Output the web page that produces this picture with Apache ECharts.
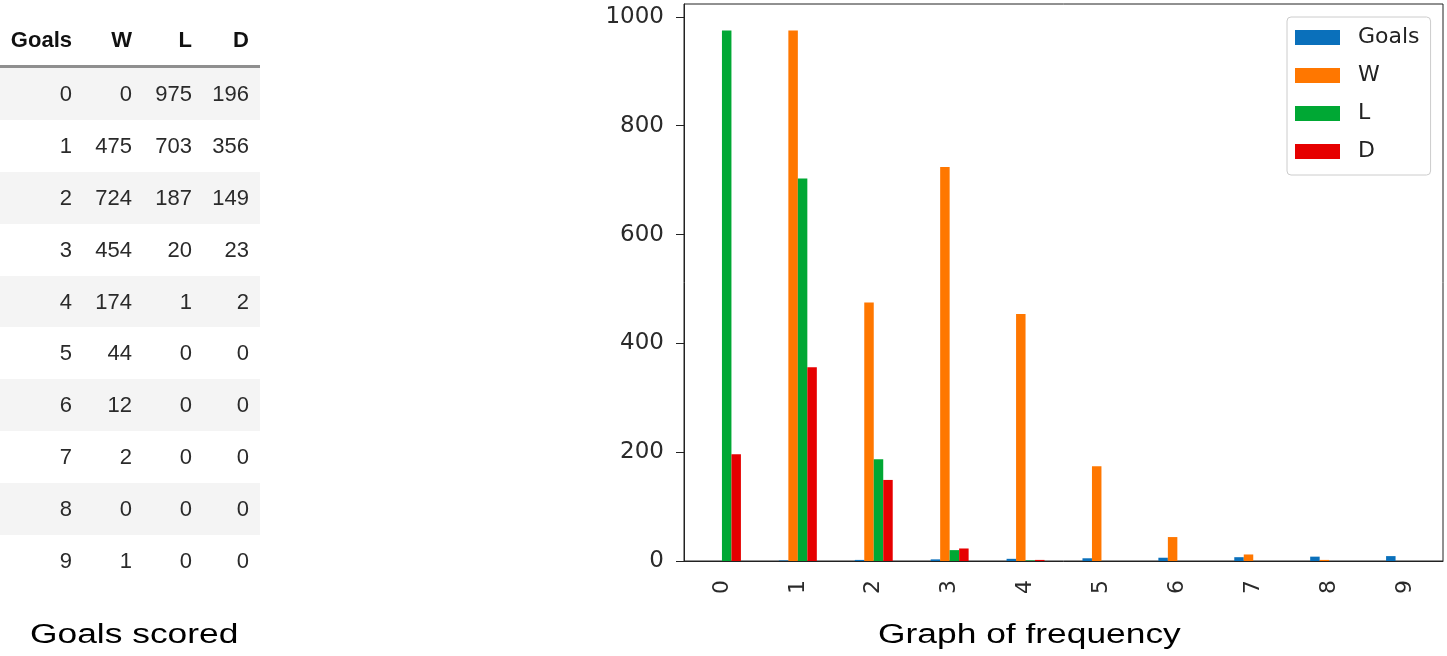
<!DOCTYPE html>
<html><head><meta charset="utf-8">
<script src="https://cdn.jsdelivr.net/npm/echarts@6/dist/echarts.min.js"></script>
<style>
html,body{margin:0;padding:0;background:#fff;width:1447px;height:656px;overflow:hidden;}
#chart{position:absolute;left:0;top:0;width:1447px;height:656px;}
#tbl{position:absolute;left:0;top:15px;border-collapse:collapse;font-family:"Liberation Sans",Arial,sans-serif;font-size:22px;color:#2a2a2a;table-layout:fixed;width:260px;z-index:2}
#tbl th{font-weight:bold;color:#111;height:50px;text-align:right;padding:0;border-bottom:3px solid #8f8f8f;}
#tbl td{height:51.9px;text-align:right;padding:0;}
#tbl tr.odd td{background:#f4f4f4}
.cap{position:absolute;font-family:"Liberation Sans",Arial,sans-serif;font-size:27px;line-height:27px;color:#000;transform-origin:left top;transform:scaleX(1.31);white-space:nowrap;z-index:2}
</style></head>
<body>
<div id="chart"></div>
<table id="tbl">
<colgroup><col style="width:72px"><col style="width:60px"><col style="width:60px"><col style="width:57px"><col style="width:11px"></colgroup>
<thead><tr id="hdr"></tr></thead>
<tbody id="tbody"></tbody>
</table>
<div class="cap" style="left:30px;top:621px;">Goals scored</div>
<div class="cap" style="left:878px;top:621px;">Graph of frequency</div>
<script>
// Table data (left panel)
const tableHeader = ['Goals', 'W', 'L', 'D'];
const tableGoals = [0, 1, 2, 3, 4, 5, 6, 7, 8, 9];
const tableW = [0, 475, 724, 454, 174, 44, 12, 2, 0, 1];
const tableL = [975, 703, 187, 20, 1, 0, 0, 0, 0, 0];
const tableD = [196, 356, 149, 23, 2, 0, 0, 0, 0, 0];

// Chart data (right panel)
const categories = ['0', '1', '2', '3', '4', '5', '6', '7', '8', '9'];
const goalsValues = [0, 1, 2, 3, 4, 5, 6, 7, 8, 9];
const wValues = [0, 975, 475, 724, 454, 174, 44, 12, 2, 0];
const lValues = [975, 703, 187, 20, 1, 0, 0, 0, 0, 0];
const dValues = [196, 356, 149, 23, 2, 0, 0, 0, 0, 0];
const seriesNames = ['Goals', 'W', 'L', 'D'];
const yTicks = [0, 200, 400, 600, 800, 1000];

// build table
const hdr = document.getElementById('hdr');
tableHeader.forEach(h => { const th = document.createElement('th'); th.textContent = h; hdr.appendChild(th); });
hdr.appendChild(document.createElement('th'));
const tb = document.getElementById('tbody');
tableGoals.forEach((g, i) => {
  const tr = document.createElement('tr');
  if (i % 2 === 0) tr.className = 'odd';
  [g, tableW[i], tableL[i], tableD[i], ''].forEach(v => {
    const td = document.createElement('td'); td.textContent = v; tr.appendChild(td);
  });
  tb.appendChild(tr);
});

const colors = ['#0a70bb', '#ff7700', '#00a834', '#e60000'];
const chart = echarts.init(document.getElementById('chart'));
const valuesList = [goalsValues, wValues, lValues, dValues];
chart.setOption({
  animation: false,
  color: colors,
  grid: { left: 684, right: 4, top: 4, bottom: 95, show: true, borderColor: '#222', borderWidth: 1 },
  legend: {
    orient: 'vertical', left: 1287, top: 17, itemWidth: 45, itemHeight: 15, itemGap: 15,
    padding: [9, 11, 12, 8], borderColor: '#cccccc', borderWidth: 1, borderRadius: 4,
    backgroundColor: '#fff', icon: 'rect', align: 'left', data: seriesNames,
    textStyle: { fontFamily: 'DejaVu Sans', fontSize: 22, color: '#222', lineHeight: 23, padding: [0, 0, 0, 13] }
  },
  xAxis: {
    type: 'category', data: categories,
    axisLine: { lineStyle: { color: '#222' } },
    axisTick: { alignWithLabel: true, length: 8, lineStyle: { color: '#222' } },
    axisLabel: { rotate: 90, margin: 19, fontFamily: 'DejaVu Sans', fontSize: 22, color: '#2a2a2a' }
  },
  yAxis: {
    type: 'value', min: 0, max: 1023.75,
    axisLine: { show: true, lineStyle: { color: '#222' } },
    axisTick: { show: true, length: 8, customValues: yTicks, lineStyle: { color: '#222' } },
    axisLabel: { customValues: yTicks, margin: 20, fontFamily: 'DejaVu Sans', fontSize: 23, color: '#2a2a2a',
      formatter: v => String(v) },
    splitLine: { show: false }
  },
  series: seriesNames.map((n, i) => ({
    name: n, type: 'bar', data: valuesList[i], barGap: '0%', barCategoryGap: '50%'
  }))
});
</script>
</body></html>
